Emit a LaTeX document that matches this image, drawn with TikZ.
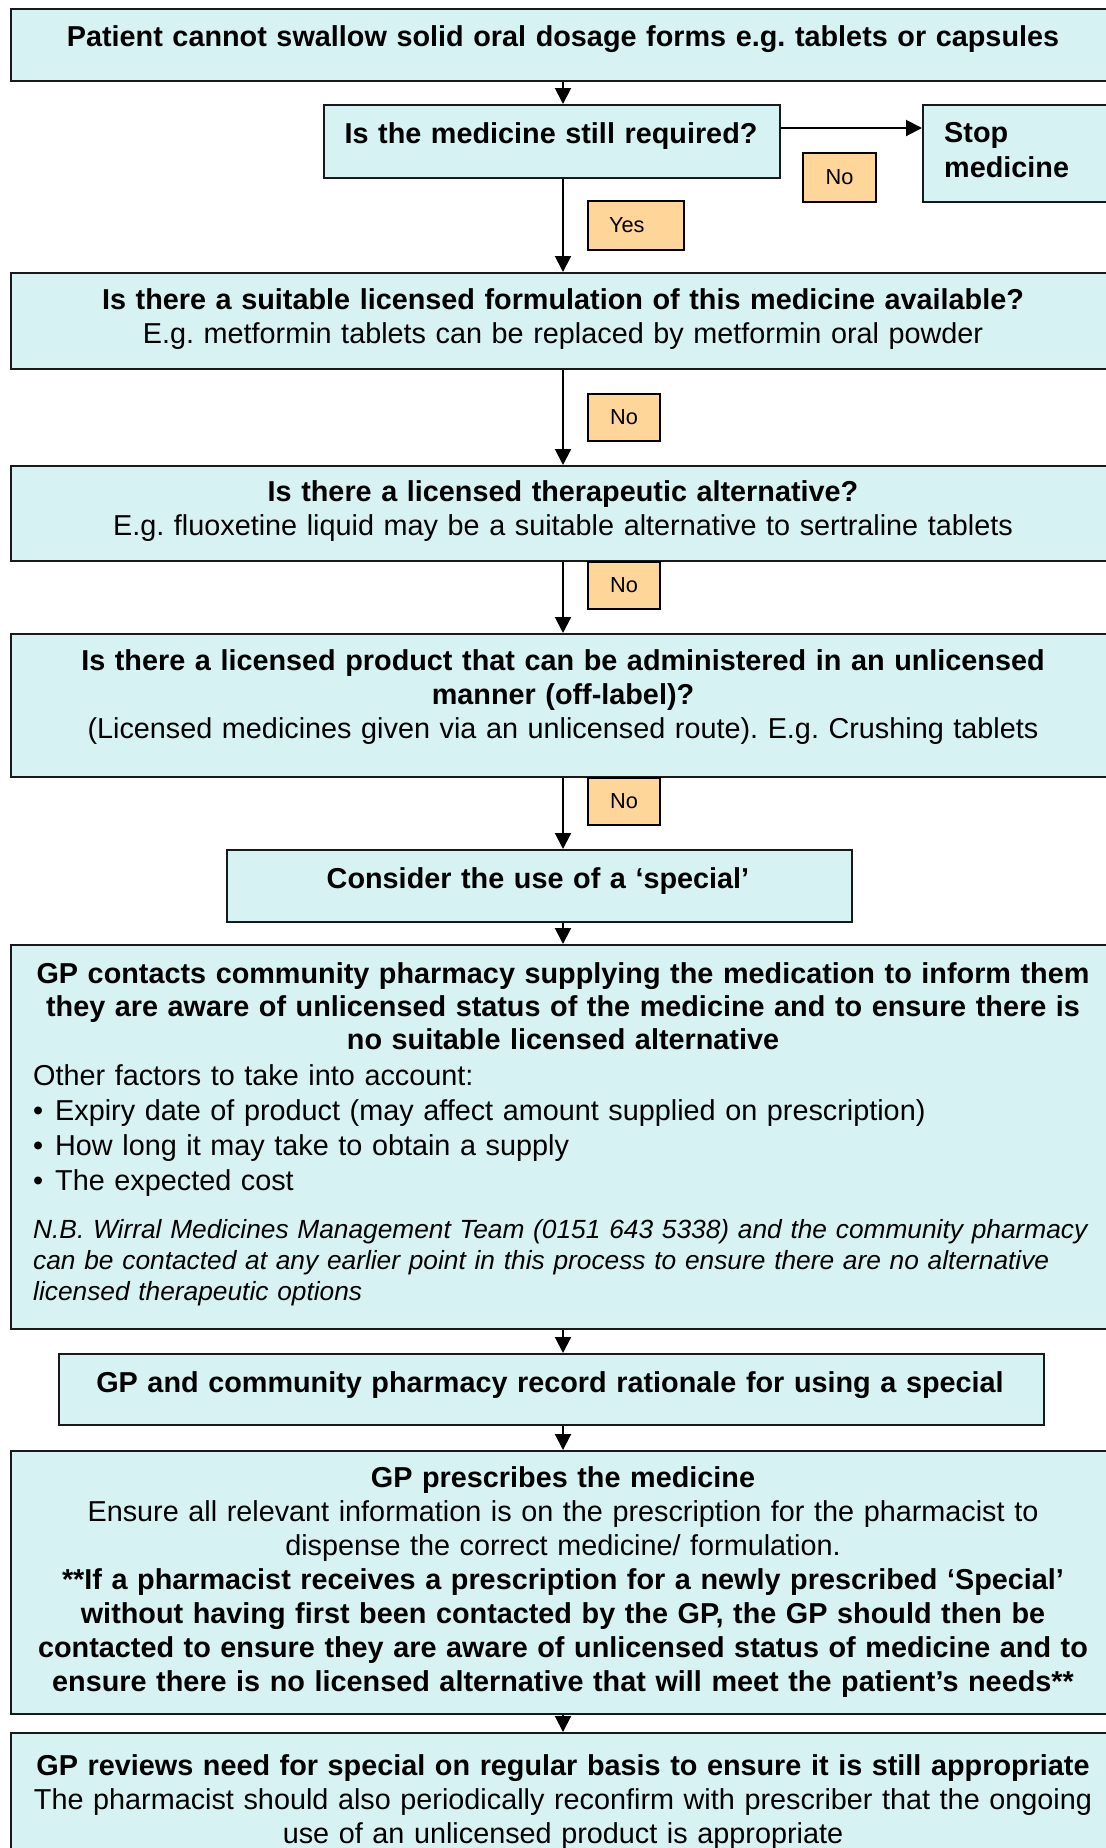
\documentclass[tikz,border=0pt]{standalone}
\usepackage{fontspec}
\setmainfont{Liberation Sans}
\usetikzlibrary{arrows.meta}
\frenchspacing
\definecolor{boxfill}{RGB}{214,242,242}
\definecolor{labfill}{RGB}{255,214,153}
\definecolor{edge}{RGB}{25,25,25}
\tikzset{
  box/.style={draw=edge, line width=2pt, fill=boxfill, rectangle, inner sep=0pt, anchor=north west},
  lab/.style={draw=black, line width=2pt, fill=labfill, rectangle, inner sep=0pt, anchor=north west,
    font=\fontsize{21.75}{26}\selectfont},
  txt/.style={inner sep=0pt, anchor=base, text width=1100pt, align=center, font=\fontsize{28.8}{34}\selectfont},
  ltxt/.style={inner sep=0pt, anchor=base west, text width=1070pt, align=left, font=\fontsize{28.8}{35}\selectfont},
  arr/.style={line width=2pt, draw=black, -{Triangle[width=16pt,length=16pt]}},
}
\begin{document}
\begin{tikzpicture}[x=1pt,y=-1pt]
\useasboundingbox (0,0) rectangle (1106,1848);
\clip (0,0) rectangle (1106,1848);
\fill[white] (0,0) rectangle (1106,1848);
\coordinate (ax) at (563,0);
% boxes
\node[box, minimum width=1106pt, minimum height=72pt] (b1) at (10,8) {};
\node[box, minimum width=456pt, minimum height=73pt] (b2) at (323,104) {};
\node[box, minimum width=220pt, minimum height=97pt] (stop) at (922,104) {};
\node[box, minimum width=1106pt, minimum height=96pt] (b3) at (10,272) {};
\node[box, minimum width=1106pt, minimum height=95pt] (b4) at (10,465) {};
\node[box, minimum width=1106pt, minimum height=143pt] (b5) at (10,633) {};
\node[box, minimum width=625pt, minimum height=72pt] (b6) at (226,849) {};
\node[box, minimum width=1106pt, minimum height=384pt] (b7) at (10,944) {};
\node[box, minimum width=985pt, minimum height=71pt] (b8) at (58,1353) {};
\node[box, minimum width=1106pt, minimum height=263pt] (b9) at (10,1450) {};
\node[box, minimum width=1106pt, minimum height=150pt] (b10) at (10,1732) {};
% connectors
\draw[arr] (b1.south -| ax) -- (b2.north -| ax);
\draw[arr] (b2.south -| ax) -- (b3.north -| ax);
\draw[arr] ([yshift=-24pt]b2.north east) -- ([yshift=-24pt]stop.north west);
\draw[arr] (b3.south -| ax) -- (b4.north -| ax);
\draw[arr] (b4.south -| ax) -- (b5.north -| ax);
\draw[arr] (b5.south -| ax) -- (b6.north -| ax);
\draw[arr] (b6.south -| ax) -- (b7.north -| ax);
\draw[arr] (b7.south -| ax) -- (b8.north -| ax);
\draw[arr] (b8.south -| ax) -- (b9.north -| ax);
\draw[arr] (b9.south -| ax) -- (b10.north -| ax);
% labels
\node[lab, minimum width=73pt, minimum height=49pt] (no1) at (802,152) {No};
\node[lab, minimum width=96pt, minimum height=49pt] (yes) at (587,200) {\makebox[54pt][l]{Yes}};
\node[lab, minimum width=72pt, minimum height=47pt] (no2) at (587,393) {No};
\node[lab, minimum width=72pt, minimum height=47pt] (no3) at (587,561) {No};
\node[lab, minimum width=72pt, minimum height=47pt] (no4) at (587,777) {No};
% texts
\node[txt] (t1) at (563,46) {\bfseries Patient cannot swallow solid oral dosage forms e.g. tablets or capsules};
\node[txt] (t2) at (551,143) {\bfseries Is the medicine still required?};
\node[ltxt, text width=180pt, font=\fontsize{28.8}{35}\selectfont] (t2b) at (944,142) {\bfseries Stop\\\bfseries medicine};
\node[txt, font=\fontsize{28.8}{34.5}\selectfont] (t3) at (563,309) {{\bfseries Is there a suitable licensed formulation of this medicine available?}\\
E.g. metformin tablets can be replaced by metformin oral powder};
\node[txt] (t4) at (563,501.5) {{\bfseries Is there a licensed therapeutic alternative?}\\
E.g. fluoxetine liquid may be a suitable alternative to sertraline tablets};
\node[txt] (t5) at (563,670) {{\bfseries Is there a licensed product that can be administered in an unlicensed}\\
{\bfseries manner (off-label)?}\\
(Licensed medicines given via an unlicensed route). E.g. Crushing tablets};
\node[txt] (t6) at (538,888) {\bfseries Consider the use of a ‘special’};
\node[txt, font=\fontsize{28.8}{33}\selectfont] (t7) at (563,983) {{\bfseries GP contacts community pharmacy supplying the medication to inform them}\\
{\bfseries they are aware of unlicensed status of the medicine and to ensure there is}\\
{\bfseries no suitable licensed alternative}};
\node[ltxt] (t7b) at (33,1085) {Other factors to take into account:\\
\makebox[22pt][l]{\textbullet}Expiry date of product (may affect amount supplied on prescription)\\
\makebox[22pt][l]{\textbullet}How long it may take to obtain a supply\\
\makebox[22pt][l]{\textbullet}The expected cost};
\node[ltxt, font=\fontsize{26.3}{31}\selectfont] (t7c) at (33,1238) {\itshape N.B. Wirral Medicines Management Team (0151 643 5338) and the community pharmacy\\
\itshape can be contacted at any earlier point in this process to ensure there are no alternative\\
\itshape licensed therapeutic options};
\node[txt] (t8) at (550,1392) {\bfseries GP and community pharmacy record rationale for using a special};
\node[txt] (t9) at (563,1487) {{\bfseries GP prescribes the medicine}\\
Ensure all relevant information is on the prescription for the pharmacist to\\
dispense the correct medicine/ formulation.\\
{\bfseries **If a pharmacist receives a prescription for a newly prescribed ‘Special’}\\
{\bfseries without having first been contacted by the GP, the GP should then be}\\
{\bfseries contacted to ensure they are aware of unlicensed status of medicine and to}\\
{\bfseries ensure there is no licensed alternative that will meet the patient’s needs**}};
\node[txt] (t10) at (563,1775) {{\bfseries GP reviews need for special on regular basis to ensure it is still appropriate}\\
The pharmacist should also periodically reconfirm with prescriber that the ongoing\\
use of an unlicensed product is appropriate};
\end{tikzpicture}
\end{document}
